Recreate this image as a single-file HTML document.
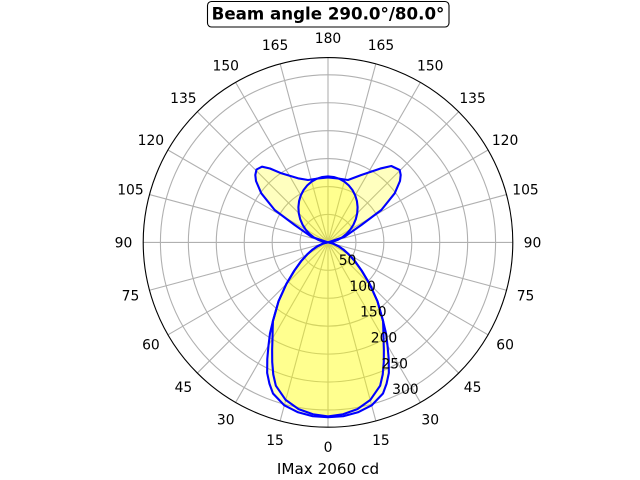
<!DOCTYPE html>
<html>
<head>
<meta charset="utf-8">
<style>
  html, body { margin: 0; padding: 0; background: #ffffff; }
  svg { display: block; }
  text { font-family: "DejaVu Sans", "Liberation Sans", sans-serif; fill: #000; }
</style>
</head>
<body>
<svg width="640" height="480" viewBox="0 0 640 480" xmlns="http://www.w3.org/2000/svg">
  <rect x="0" y="0" width="640" height="480" fill="#ffffff"/>

  <!-- grid -->
  <g transform="translate(328,242.4)" stroke="#b0b0b0" stroke-width="1.1" fill="none">
    <circle r="27.93"/>
    <circle r="55.86"/>
    <circle r="83.79"/>
    <circle r="111.72"/>
    <circle r="139.65"/>
    <circle r="167.58"/>
    <line x1="0" y1="-184.8" x2="0" y2="184.8" transform="rotate(0)"/>
    <line x1="0" y1="-184.8" x2="0" y2="184.8" transform="rotate(15)"/>
    <line x1="0" y1="-184.8" x2="0" y2="184.8" transform="rotate(30)"/>
    <line x1="0" y1="-184.8" x2="0" y2="184.8" transform="rotate(45)"/>
    <line x1="0" y1="-184.8" x2="0" y2="184.8" transform="rotate(60)"/>
    <line x1="0" y1="-184.8" x2="0" y2="184.8" transform="rotate(75)"/>
    <line x1="0" y1="-184.8" x2="0" y2="184.8" transform="rotate(90)"/>
    <line x1="0" y1="-184.8" x2="0" y2="184.8" transform="rotate(105)"/>
    <line x1="0" y1="-184.8" x2="0" y2="184.8" transform="rotate(120)"/>
    <line x1="0" y1="-184.8" x2="0" y2="184.8" transform="rotate(135)"/>
    <line x1="0" y1="-184.8" x2="0" y2="184.8" transform="rotate(150)"/>
    <line x1="0" y1="-184.8" x2="0" y2="184.8" transform="rotate(165)"/>
  </g>

  <!-- fills -->
  <g fill="#ffff00" fill-opacity="0.25" stroke="none">
    <polygon points="328,242.4 325.05,242.92 322.2,243.95 317.66,246.16 312.59,249.58 307.22,254.4 300.97,261.33 294.3,270.68 286.28,284.12 278.5,301.38 272.93,321.04 269.97,333.49 268.5,345.45 267.29,359.04 267.15,372.91 269.45,383.76 273.01,393.5 284.34,405.35 298.05,412.28 312.78,416.24 328,417.2 343.22,416.24 357.95,412.28 371.66,405.35 382.99,393.5 386.55,383.76 388.85,372.91 388.71,359.04 387.5,345.45 386.03,333.49 383.07,321.04 377.5,301.38 369.72,284.12 361.7,270.68 355.03,261.33 348.78,254.4 343.41,249.58 338.34,246.16 333.8,243.95 330.95,242.92"/>
    <polygon points="328,242.4 325.05,242.92 322.2,243.95 317.66,246.16 312.59,249.58 307.22,254.4 300.97,261.33 294.3,270.68 286.28,284.12 278.5,301.38 272.93,321.04 272.66,329.27 272.5,338.53 272.13,349.73 272.22,362.03 273.27,374.52 275.84,385.7 285.76,400.04 298.61,409.13 312.96,414.24 328,416.4 343.04,414.24 357.39,409.13 370.24,400.04 380.16,385.7 382.73,374.52 383.78,362.03 383.87,349.73 383.5,338.53 383.34,329.27 383.07,321.04 377.5,301.38 369.72,284.12 361.7,270.68 355.03,261.33 348.78,254.4 343.41,249.58 338.34,246.16 333.8,243.95 330.95,242.92"/>
    <polygon points="328,242.4 311.3,236.7 294.7,225 274.7,210 261.3,193.3 256,181 255.3,175 256.5,169.5 262,166.7 270,168.5 281.3,173.3 298,178.3 308,180 318,178.5 328,177.5 338,178.5 348,180 361.3,175 381.3,168.3 391.3,166 399.7,170 400.7,175 400,181 394.7,193.3 381.3,210 361.3,225 344.7,236.7"/>
    <polygon points="328,242.4 325.56,242.19 321.88,241.32 317.72,239.65 313.42,237.1 309.3,233.68 305.58,229.45 302.47,224.52 300.16,219.04 298.77,213.17 298.4,207.13 299.08,201.1 300.82,195.33 303.58,190.02 307.25,185.38 311.7,181.57 316.78,178.73 322.28,176.99 328,176.4 333.72,176.99 339.22,178.73 344.3,181.57 348.75,185.38 352.42,190.02 355.18,195.33 356.92,201.1 357.6,207.13 357.23,213.17 355.84,219.04 353.53,224.52 350.42,229.45 346.7,233.68 342.58,237.1 338.28,239.65 334.12,241.32 330.44,242.19"/>
  </g>

  <!-- curves -->
  <g fill="none" stroke="#0000ff" stroke-width="2.1" stroke-linejoin="round">
    <polygon points="328,242.4 325.05,242.92 322.2,243.95 317.66,246.16 312.59,249.58 307.22,254.4 300.97,261.33 294.3,270.68 286.28,284.12 278.5,301.38 272.93,321.04 269.97,333.49 268.5,345.45 267.29,359.04 267.15,372.91 269.45,383.76 273.01,393.5 284.34,405.35 298.05,412.28 312.78,416.24 328,417.2 343.22,416.24 357.95,412.28 371.66,405.35 382.99,393.5 386.55,383.76 388.85,372.91 388.71,359.04 387.5,345.45 386.03,333.49 383.07,321.04 377.5,301.38 369.72,284.12 361.7,270.68 355.03,261.33 348.78,254.4 343.41,249.58 338.34,246.16 333.8,243.95 330.95,242.92"/>
    <polygon points="328,242.4 325.05,242.92 322.2,243.95 317.66,246.16 312.59,249.58 307.22,254.4 300.97,261.33 294.3,270.68 286.28,284.12 278.5,301.38 272.93,321.04 272.66,329.27 272.5,338.53 272.13,349.73 272.22,362.03 273.27,374.52 275.84,385.7 285.76,400.04 298.61,409.13 312.96,414.24 328,416.4 343.04,414.24 357.39,409.13 370.24,400.04 380.16,385.7 382.73,374.52 383.78,362.03 383.87,349.73 383.5,338.53 383.34,329.27 383.07,321.04 377.5,301.38 369.72,284.12 361.7,270.68 355.03,261.33 348.78,254.4 343.41,249.58 338.34,246.16 333.8,243.95 330.95,242.92"/>
    <polygon points="328,242.4 311.3,236.7 294.7,225 274.7,210 261.3,193.3 256,181 255.3,175 256.5,169.5 262,166.7 270,168.5 281.3,173.3 298,178.3 308,180 318,178.5 328,177.5 338,178.5 348,180 361.3,175 381.3,168.3 391.3,166 399.7,170 400.7,175 400,181 394.7,193.3 381.3,210 361.3,225 344.7,236.7"/>
    <polygon points="328,242.4 325.56,242.19 321.88,241.32 317.72,239.65 313.42,237.1 309.3,233.68 305.58,229.45 302.47,224.52 300.16,219.04 298.77,213.17 298.4,207.13 299.08,201.1 300.82,195.33 303.58,190.02 307.25,185.38 311.7,181.57 316.78,178.73 322.28,176.99 328,176.4 333.72,176.99 339.22,178.73 344.3,181.57 348.75,185.38 352.42,190.02 355.18,195.33 356.92,201.1 357.6,207.13 357.23,213.17 355.84,219.04 353.53,224.52 350.42,229.45 346.7,233.68 342.58,237.1 338.28,239.65 334.12,241.32 330.44,242.19"/>
  </g>

  <!-- outer spine -->
  <circle cx="328" cy="242.4" r="184.8" fill="none" stroke="#000000" stroke-width="1.1"/>

  <!-- angular tick labels -->
  <g font-size="13.89" text-anchor="middle">
    <text x="328" y="451.9">0</text>
    <text x="380.93" y="444.99">15</text>
    <text x="275.07" y="444.99">15</text>
    <text x="430.25" y="424.56">30</text>
    <text x="225.75" y="424.56">30</text>
    <text x="472.6" y="392.06">45</text>
    <text x="183.4" y="392.06">45</text>
    <text x="505.1" y="349.71">60</text>
    <text x="150.9" y="349.71">60</text>
    <text x="525.53" y="300.39">75</text>
    <text x="130.47" y="300.39">75</text>
    <text x="532.5" y="247.46">90</text>
    <text x="123.5" y="247.46">90</text>
    <text x="525.53" y="194.53">105</text>
    <text x="130.47" y="194.53">105</text>
    <text x="505.1" y="145.21">120</text>
    <text x="150.9" y="145.21">120</text>
    <text x="472.6" y="102.86">135</text>
    <text x="183.4" y="102.86">135</text>
    <text x="430.25" y="70.36">150</text>
    <text x="225.75" y="70.36">150</text>
    <text x="380.93" y="49.93">165</text>
    <text x="275.07" y="49.93">165</text>
    <text x="328" y="42.96">180</text>
  </g>

  <!-- radial tick labels -->
  <g font-size="13.89" text-anchor="start">
    <text x="338.69" y="265.1">50</text>
    <text x="349.38" y="290.9">100</text>
    <text x="360.07" y="316.7">150</text>
    <text x="370.76" y="342.5">200</text>
    <text x="381.45" y="368.3">250</text>
    <text x="392.14" y="394.1">300</text>
  </g>

  <!-- title -->
  <rect x="207.5" y="1.5" width="241.5" height="25.5" rx="4" ry="4" fill="#ffffff" stroke="#000000" stroke-width="1.1"/>
  <text x="328" y="19.3" font-size="16.67" font-weight="bold" text-anchor="middle">Beam angle 290.0°/80.0°</text>

  <!-- x label -->
  <text x="328" y="474" font-size="15.2" text-anchor="middle">IMax 2060 cd</text>
</svg>
</body>
</html>
